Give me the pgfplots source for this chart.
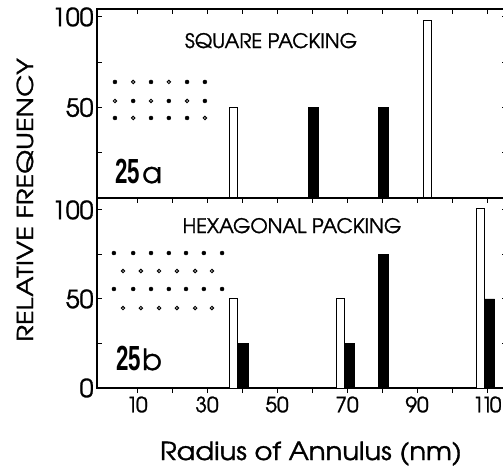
\documentclass[border=0pt]{standalone}
\usepackage{pgfplots}
\pgfplotsset{compat=1.18}
\usepackage{graphicx}
\usepackage{fontspec}
\setmainfont{TeX Gyre Adventor}[FakeBold=1.2]
\newfontfamily\hv{Liberation Sans}
\begin{document}
\begin{tikzpicture}
\path[use as bounding box] (0,0) rectangle (503bp,-468bp);
\pgfplotsset{
  panel/.style={
    scale only axis, width=410bp, xmin=-1.43, xmax=115.7, ymin=0,
    axis line style={line width=1.4bp},
    every tick/.style={black, line width=1bp},
    major tick length=5bp,
    tick align=inside,
    xtick={10,20,...,110},
    xticklabels={},
    ytick pos=both,
    yticklabel style={font=\fontsize{25}{25}\selectfont},
    /pgf/number format/assume math mode=true,
    clip=false,
  },
  wbar/.style={ybar, bar width=8bp, fill=white, draw=black, line width=1bp},
  bbar/.style={ybar, bar width=10bp, fill=black, draw=black, line width=0.5bp},
  fdot/.style={only marks, mark=*, mark size=2bp, black},
  odot/.style={only marks, mark=o, mark size=1.7bp, black, mark options={line width=1bp}},
}
% ---------- top panel: square packing ----------
\begin{axis}[panel, at={(97bp,-9bp)}, anchor=north west, height=189bp, ymax=104.4,
  xtick pos=right, ytick={25,50,75,100}, yticklabels={,50,,100}]
\addplot[wbar] coordinates {(37.7,50) (93.1,98)};
\addplot[bbar] coordinates {(60.4,50) (80.4,50)};
% lattice sketch
\addplot[fdot] coordinates {(3.7,64.1) (14.0,64.1) (24.3,64.1) (29.4,64.1)
  (8.9,53.6) (19.1,53.6) (29.4,53.6)
  (3.7,44.2) (14.0,44.2) (19.1,44.2) (24.3,44.2)};
\addplot[odot] coordinates {(8.9,64.1) (19.1,64.1)
  (3.7,53.6) (14.0,53.6) (24.3,53.6)
  (8.9,44.2) (29.4,44.2)};
\end{axis}
% ---------- bottom panel: hexagonal packing ----------
\begin{axis}[panel, at={(97bp,-198bp)}, anchor=north west, height=190bp, ymax=106.7,
  xtick pos=right, ytick={0,25,50,75,100}, yticklabels={0,,50,,100}]
\addplot[wbar] coordinates {(37.7,50) (68.0,50) (108.1,101)};
\addplot[bbar] coordinates {(40.3,25) (70.6,25) (80.4,75) (110.7,50)};
\addplot[fdot] coordinates {(3.4,75.8) (8.9,75.8) (14.0,75.8) (19.1,75.8) (24.0,75.8) (29.1,75.8) (34.3,75.8)
  (3.4,55.6) (8.9,55.6) (14.0,55.6) (19.1,55.6) (24.0,55.6) (29.1,55.6) (34.3,55.6)};
\addplot[odot] coordinates {(6.0,65.7) (11.1,65.7) (16.3,65.7) (21.4,65.7) (26.6,65.7) (31.4,65.7)
  (6.0,44.9) (11.1,44.9) (16.3,44.9) (21.4,44.9) (26.6,44.9) (31.4,44.9)};
\end{axis}
% ---------- bottom ticks (outward) and labels ----------
\begin{axis}[scale only axis, width=410bp, height=190bp, at={(97bp,-198bp)}, anchor=north west,
  xmin=-1.43, xmax=115.7, ymin=0, ymax=106.7,
  axis line style={draw=none}, ytick=\empty,
  xtick={10,20,...,110},
  xticklabels={1\kern-2bp 0,,30,,50,,70,,90,,1\kern-3bp 1\kern-3bp 0},
  xtick pos=left, tick align=outside, major tick length=5bp,
  every tick/.style={black, line width=1bp},
  xticklabel style={font=\fontsize{21}{21}\selectfont},
  /pgf/number format/assume math mode=true]
\addplot[draw=none] coordinates {(0,0)};
\end{axis}
% ---------- texts ----------
\node[anchor=base, font=\fontsize{20}{20}\selectfont] at (271bp,-48bp) {SQUARE PACKING};
\node[anchor=base, font=\fontsize{20}{20}\selectfont] at (292bp,-233bp) {HEXAGONAL PACKING};
\node[anchor=base, rotate=90, font=\fontsize{22}{22}\selectfont] at (33bp,-200bp) {\scalebox{1.25}[1]{RELATIVE FREQUENCY}};
\node[anchor=base, font=\fontsize{25}{25}\selectfont] at (311bp,-460bp) {\scalebox{1.1}[1]{Radius of Annulus (nm)}};
\node[anchor=base west, inner sep=0pt] at (115bp,-183bp) {\hv\bfseries\fontsize{35}{35}\selectfont\scalebox{0.64}[1]{25}};
\node[anchor=base west, inner sep=0pt, font=\fontsize{29}{29}\selectfont] at (142bp,-183bp) {a};
\node[anchor=base west, inner sep=0pt] at (116bp,-370bp) {\hv\bfseries\fontsize{35}{35}\selectfont\scalebox{0.64}[1]{25}};
\node[anchor=base west, inner sep=0pt, font=\fontsize{29}{29}\selectfont] at (142bp,-370bp) {b};
\end{tikzpicture}
\end{document}
